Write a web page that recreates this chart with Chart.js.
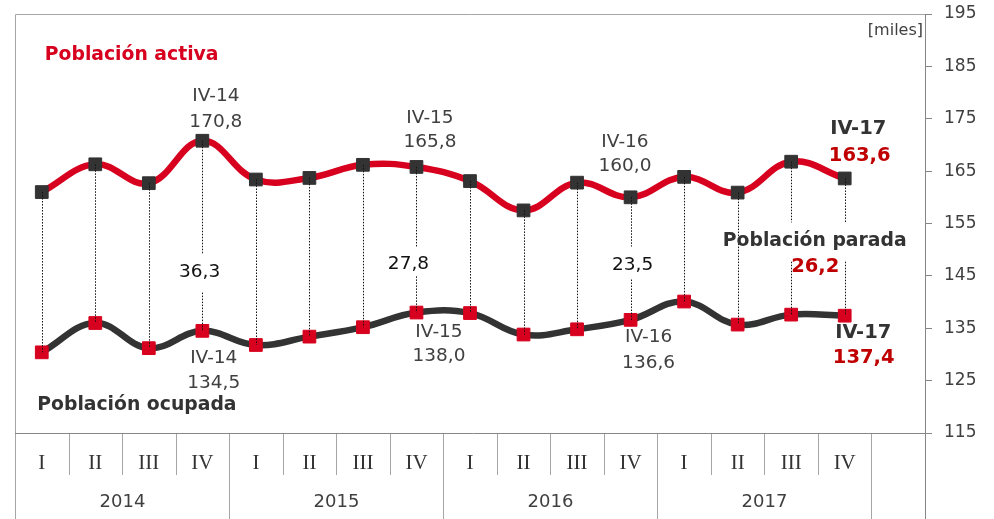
<!DOCTYPE html>
<html lang="es">
<head>
<meta charset="utf-8">
<title>Población activa, ocupada y parada</title>
<script src="https://cdn.jsdelivr.net/npm/chart.js@4.4.0/dist/chart.umd.min.js"></script>
<style>
  html, body { margin: 0; padding: 0; background: #fff; }
  #wrap { position: relative; width: 994px; height: 519px; }
</style>
</head>
<body>
<div id="wrap"><canvas id="grafico"></canvas></div>
<script>
// ===== Datos =====
const trimestres = ["I", "II", "III", "IV", "I", "II", "III", "IV", "I", "II", "III", "IV", "I", "II", "III", "IV", ""];
const anios = ["2014", "2015", "2016", "2017"];
const activa = [161.0, 166.3, 162.7, 170.8, 163.4, 163.7, 166.2, 165.8, 163.1, 157.5, 162.8, 160.0, 163.9, 160.9, 166.8, 163.6];
const ocupada = [130.4, 136.0, 131.2, 134.5, 131.8, 133.4, 135.2, 138.0, 137.9, 133.8, 134.8, 136.6, 140.1, 135.7, 137.6, 137.4];
const paradaIdx = [3, 7, 11];
const parada = [36.3, 27.8, 23.5];
const paradaFinal = 26.2;
const yMin = 115, yMax = 195, yPaso = 10;

const rojo = "#d7001e";
const rojoOsc = "#c00000";
const oscuro = "#333333";
const gris = "#404040";
const fmt = v => v.toFixed(1).replace(".", ",");

// huecos en las líneas verticales (en unidades del eje)
const huecos = [
  { i: 3, de: 149.1, a: 141.8 },
  { i: 7, de: 150.6, a: 144.9 },
  { i: 11, de: 150.6, a: 144.3 },
  { i: 14, de: 155.2, a: 147.7 },
  { i: 15, de: 155.2, a: 147.7 }
];

// textos: índice de categoría, valor en el eje y desplazamiento en px
const normal = "18.5px 'DejaVu Sans'";
const negrita = "bold 18.8px 'DejaVu Sans'";
const negrita2 = "bold 19.5px 'DejaVu Sans'";
const textos = [
  { t: "Población activa", i: 0, v: 187.2, dx: 3, al: "left", f: negrita, c: rojo },
  { t: "Población ocupada", i: 0, v: 120.4, dx: -4.5, al: "left", f: negrita, c: oscuro },
  { t: "IV-14", i: 3, v: 179.3, dx: 13.5, f: normal, c: gris },
  { t: fmt(activa[3]), i: 3, v: 174.3, dx: 13.5, f: normal, c: gris },
  { t: "IV-15", i: 7, v: 175.1, dx: 13.5, f: normal, c: gris },
  { t: fmt(activa[7]), i: 7, v: 170.5, dx: 13.5, f: normal, c: gris },
  { t: "IV-16", i: 11, v: 170.6, dx: -5.6, f: normal, c: gris },
  { t: fmt(activa[11]), i: 11, v: 166.0, dx: -5.6, f: normal, c: gris },
  { t: "IV-14", i: 3, v: 129.3, dx: 11.4, f: normal, c: gris },
  { t: fmt(ocupada[3]), i: 3, v: 124.5, dx: 11.4, f: normal, c: gris },
  { t: "IV-15", i: 7, v: 134.2, dx: 22.5, f: normal, c: gris },
  { t: fmt(ocupada[7]), i: 7, v: 129.7, dx: 22.5, f: normal, c: gris },
  { t: "IV-16", i: 11, v: 133.2, dx: 18, f: normal, c: gris },
  { t: fmt(ocupada[11]), i: 11, v: 128.4, dx: 18, f: normal, c: gris },
  { t: fmt(parada[0]), i: paradaIdx[0], v: 145.7, dx: -2.7, f: normal, c: "#111" },
  { t: fmt(parada[1]), i: paradaIdx[1], v: 147.2, dx: -8, f: normal, c: "#111" },
  { t: fmt(parada[2]), i: paradaIdx[2], v: 147.0, dx: 2, f: normal, c: "#111" },
  { t: "IV-17", i: 15, v: 173.0, dx: 13.5, f: negrita2, c: oscuro },
  { t: fmt(activa[15]), i: 15, v: 167.9, dx: 15, f: negrita2, c: rojoOsc },
  { t: "Población parada", i: 15, v: 151.6, dx: -30, f: negrita, c: oscuro },
  { t: fmt(paradaFinal), i: 15, v: 146.8, dx: -29.5, f: negrita2, c: rojoOsc },
  { t: "IV-17", i: 15, v: 134.1, dx: 18.5, f: negrita2, c: oscuro },
  { t: fmt(ocupada[15]), i: 15, v: 129.3, dx: 19, f: negrita2, c: rojoOsc }
];

// líneas verticales punteadas entre ambas series
const verticales = {
  id: "verticales",
  afterDatasetsDraw(chart) {
    const { ctx, scales: { x, y } } = chart;
    ctx.save();
    ctx.strokeStyle = "#111";
    ctx.lineWidth = 1;
    ctx.setLineDash([1.5, 1.5]);
    activa.forEach((v, i) => {
      const px = Math.round(x.getPixelForValue(i)) + 0.5;
      const y1 = y.getPixelForValue(v);
      const y2 = y.getPixelForValue(ocupada[i]);
      const h = huecos.find(g => g.i === i);
      ctx.beginPath();
      if (h) {
        ctx.moveTo(px, y1); ctx.lineTo(px, y.getPixelForValue(h.de));
        ctx.moveTo(px, y.getPixelForValue(h.a)); ctx.lineTo(px, y2);
      } else {
        ctx.moveTo(px, y1); ctx.lineTo(px, y2);
      }
      ctx.stroke();
    });
    ctx.restore();
  }
};

// marco, eje de categorías y textos
const ejeX = {
  id: "ejeX",
  afterDraw(chart) {
    const { ctx, chartArea: a, scales: { x, y } } = chart;
    const alto = chart.height;
    const paso = x.getPixelForValue(1) - x.getPixelForValue(0);
    const borde = k => Math.round(x.getPixelForValue(k) - paso / 2) + 0.5;
    ctx.save();
    ctx.lineWidth = 1;
    ctx.strokeStyle = "#a6a6a6";
    ctx.beginPath();
    ctx.moveTo(a.left + 0.5, alto); ctx.lineTo(a.left + 0.5, Math.round(a.top) + 0.5);
    ctx.lineTo(a.right, Math.round(a.top) + 0.5);
    ctx.stroke();
    ctx.strokeStyle = "#868686";
    ctx.beginPath();
    ctx.moveTo(a.left, Math.round(a.bottom) + 0.5); ctx.lineTo(a.right + 7, Math.round(a.bottom) + 0.5);
    ctx.moveTo(Math.round(a.right) + 0.5, a.bottom); ctx.lineTo(Math.round(a.right) + 0.5, alto);
    ctx.stroke();
    ctx.strokeStyle = "#a6a6a6";
    for (let k = 1; k < trimestres.length; k++) {
      const px = borde(k);
      const largo = k % 4 === 0 ? alto : a.bottom + 42;
      ctx.beginPath();
      ctx.moveTo(px, a.bottom + 1); ctx.lineTo(px, largo);
      ctx.stroke();
    }
    ctx.textAlign = "center";
    ctx.textBaseline = "middle";
    ctx.fillStyle = oscuro;
    ctx.font = "21px 'Liberation Serif'";
    trimestres.forEach((t, k) => ctx.fillText(t, x.getPixelForValue(k), a.bottom + 30));
    ctx.fillStyle = gris;
    ctx.font = "18px 'DejaVu Sans'";
    anios.forEach((t, j) => ctx.fillText(t, (borde(j * 4) + borde(j * 4 + 4)) / 2, a.bottom + 69));
    ctx.textAlign = "right";
    ctx.font = "16px 'DejaVu Sans'";
    ctx.fillText("[miles]", a.right - 2, y.getPixelForValue(191.7));
    textos.forEach(o => {
      ctx.font = o.f;
      ctx.fillStyle = o.c;
      ctx.textAlign = o.al || "center";
      ctx.fillText(o.t, x.getPixelForValue(o.i) + o.dx, y.getPixelForValue(o.v));
    });
    ctx.restore();
  }
};

new Chart(document.getElementById("grafico"), {
  type: "line",
  data: {
    labels: trimestres,
    datasets: [
      {
        label: "Población activa",
        data: activa,
        borderColor: rojo,
        borderWidth: 6.5,
        tension: 0.4,
        pointStyle: "rect",
        pointRadius: 9,
        pointBorderWidth: 1,
        pointBackgroundColor: oscuro,
        pointBorderColor: oscuro
      },
      {
        label: "Población ocupada",
        data: ocupada,
        borderColor: oscuro,
        borderWidth: 6.5,
        tension: 0.4,
        pointStyle: "rect",
        pointRadius: 9,
        pointBorderWidth: 1,
        pointBackgroundColor: rojo,
        pointBorderColor: rojo
      }
    ]
  },
  options: {
    responsive: true,
    maintainAspectRatio: false,
    animation: false,
    layout: { padding: { left: 15, top: 14, bottom: 86, right: 0 } },
    plugins: { legend: { display: false }, tooltip: { enabled: false } },
    scales: {
      x: { type: "category", offset: true, display: false },
      y: {
        position: "right",
        min: yMin,
        max: yMax,
        afterFit: s => { s.width = 69; s.paddingTop = 0; s.paddingBottom = 0; },
        ticks: { stepSize: yPaso, padding: 12, color: gris, font: { family: "DejaVu Sans", size: 17 } },
        grid: { drawOnChartArea: false, tickLength: 7, color: "#868686" },
        border: { display: true, color: "#868686" }
      }
    }
  },
  plugins: [verticales, ejeX]
});
</script>
</body>
</html>
